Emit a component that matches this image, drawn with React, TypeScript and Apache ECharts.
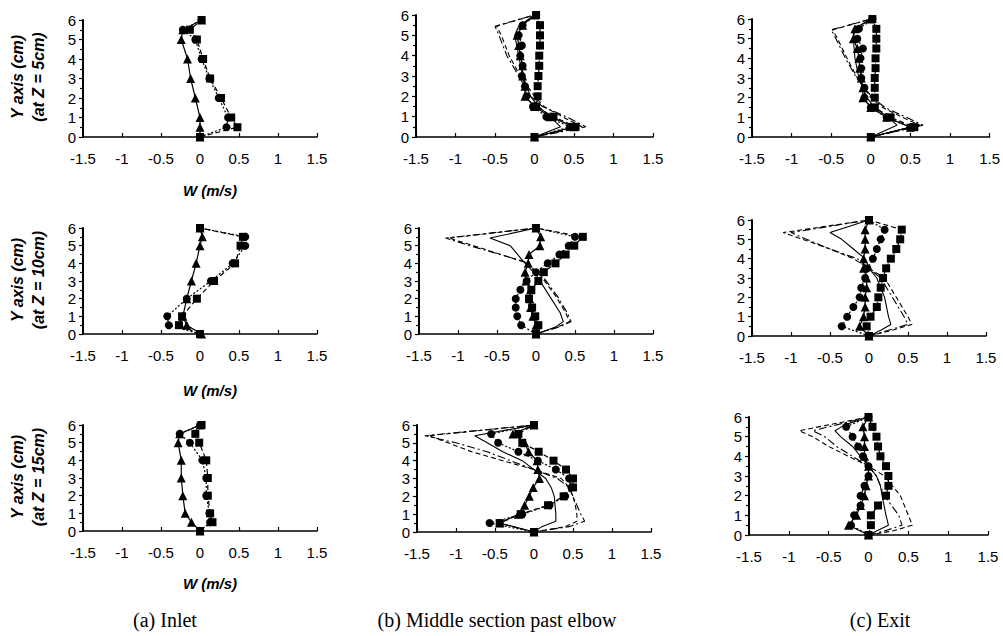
import React, { useEffect, useRef } from 'react';
import * as echarts from 'echarts';

// ---------- axis definitions ----------
const xMin = -1.5;
const xMax = 1.5;
const xStep = 0.5;
const yMin = 0;
const yMax = 6;
const yStep = 1;

// ---------- Y levels of measured points ----------
const yInlet = [0, 0.5, 1, 2, 3, 4, 5, 5.5, 6];
const yProfile = [0, 0.5, 1, 1.5, 2, 2.5, 3, 3.5, 4, 4.5, 5, 5.5, 6];

// ---------- (a) Inlet ----------
const a5Tri = [0, 0, 0, -0.06, -0.12, -0.16, -0.24, -0.22, 0.02];
const a5Cir = [0, 0.34, 0.36, 0.24, 0.12, 0.02, -0.06, -0.22, 0.02];
const a5Sq = [0, 0.48, 0.4, 0.27, 0.13, 0.04, -0.04, -0.13, 0.02];

const a10Tri = [0.02, -0.17, -0.22, -0.17, -0.11, -0.05, 0.0, 0.03, 0.0];
const a10Cir = [0, -0.4, -0.42, -0.17, 0.14, 0.42, 0.58, 0.58, 0.0];
const a10Sq = [0, -0.27, -0.23, -0.04, 0.18, 0.45, 0.52, 0.55, 0.0];

const a15Tri = [0, -0.11, -0.19, -0.22, -0.24, -0.24, -0.28, -0.26, 0.0];
const a15Cir = [0, 0.13, 0.12, 0.08, 0.08, 0.03, -0.13, -0.26, 0.0];
const a15Sq = [0, 0.16, 0.13, 0.1, 0.1, 0.08, -0.01, -0.06, 0.02];

// ---------- (b) Middle section past elbow ----------
const b5Tri = [0, 0.5, 0.2, 0.0, -0.12, -0.12, -0.15, -0.15, -0.18, -0.2, -0.22, -0.15, 0.0];
const b5Cir = [0, 0.45, 0.15, -0.02, -0.1, -0.12, -0.16, -0.15, -0.18, -0.16, -0.2, -0.15, 0.02];
const b5Sq = [0, 0.52, 0.24, 0.02, 0.04, 0.04, 0.05, 0.06, 0.06, 0.07, 0.07, 0.07, 0.02];
const yLineB5 = [0, 0.5, 1, 1.5, 2, 3, 4, 5, 5.45, 6];
const b5Solid = [0, 0.33, 0.2, 0.05, -0.05, -0.15, -0.2, -0.25, -0.2, 0];
const b5Dash = [0, 0.6, 0.35, 0.12, 0.0, -0.18, -0.32, -0.42, -0.48, 0];
const b5DashDot = [0, 0.65, 0.4, 0.1, -0.05, -0.2, -0.35, -0.45, -0.5, 0];

const b10Tri = [0, 0.0, -0.04, -0.07, -0.08, -0.07, -0.13, -0.14, -0.1, -0.09, 0.05, 0.06, 0];
const b10Cir = [0, -0.19, -0.24, -0.26, -0.26, -0.2, -0.12, 0.0, 0.15, 0.3, 0.42, 0.5, 0];
const b10Sq = [0, 0.03, -0.01, -0.05, -0.09, -0.06, 0.03, 0.1, 0.25, 0.38, 0.49, 0.6, 0];
const yLineB10 = [0, 0.4, 0.7, 1.2, 2.1, 3.3, 4.1, 5, 5.43, 6];
const b10Solid = [0, 0.25, 0.35, 0.31, 0.18, 0.01, -0.16, -0.33, -0.59, 0];
const b10Dash = [0, 0.28, 0.43, 0.38, 0.26, 0.06, -0.17, -0.8, -1.12, 0];
const b10DashDot = [0, 0.3, 0.45, 0.4, 0.28, 0.08, -0.15, -0.85, -1.16, 0];

const b15Tri = [0, -0.44, -0.2, -0.12, -0.06, -0.01, 0.07, 0.05, 0.04, -0.07, -0.12, -0.27, 0];
const b15Cir = [0, -0.57, -0.15, 0.2, 0.4, 0.48, 0.45, 0.28, 0.05, -0.2, -0.46, -0.55, 0];
const b15Sq = [0, -0.44, -0.17, 0.18, 0.38, 0.5, 0.5, 0.41, 0.25, 0.06, -0.15, -0.2, 0];
const yLineB15 = [0, 0.3, 0.6, 1, 1.5, 2, 2.5, 3, 3.5, 4, 4.5, 5, 5.4, 6];
const b15Solid = [0, 0.1, 0.28, 0.28, 0.27, 0.26, 0.22, 0.15, 0.0, -0.15, -0.4, -0.6, -0.76, 0];
const b15Dash = [0, 0.4, 0.55, 0.55, 0.53, 0.5, 0.45, 0.35, 0.0, -0.4, -0.8, -1.1, -1.35, 0];
const b15DashDot = [0, 0.45, 0.65, 0.6, 0.55, 0.5, 0.45, 0.3, 0.0, -0.3, -0.6, -1.0, -1.4, 0];

// ---------- (c) Exit ----------
const c5Tri = [0, 0.5, 0.2, 0.0, -0.1, -0.1, -0.12, -0.14, -0.15, -0.17, -0.22, -0.2, 0];
const c5Cir = [0, 0.5, 0.2, 0.0, -0.08, -0.08, -0.12, -0.12, -0.13, -0.1, -0.17, -0.15, 0.02];
const c5Sq = [0, 0.55, 0.25, 0.05, 0.05, 0.05, 0.05, 0.06, 0.06, 0.07, 0.07, 0.07, 0.02];
const yLineC5 = [0, 0.6, 1, 1.5, 2, 3, 4, 5, 5.45, 6];
const c5Solid = [0, 0.33, 0.22, 0.05, -0.05, -0.15, -0.2, -0.22, -0.22, 0];
const c5Dash = [0, 0.62, 0.4, 0.15, 0.0, -0.17, -0.3, -0.42, -0.48, 0];
const c5DashDot = [0, 0.66, 0.45, 0.18, 0.02, -0.18, -0.32, -0.44, -0.5, 0];

const c10Tri = [0, -0.12, -0.07, -0.05, -0.05, -0.03, -0.03, -0.07, -0.07, -0.05, -0.05, -0.05, 0];
const c10Cir = [0, -0.35, -0.28, -0.2, -0.12, -0.1, -0.05, -0.02, 0.05, 0.1, 0.15, 0.2, 0];
const c10Sq = [0, -0.03, 0.02, 0.1, 0.12, 0.15, 0.18, 0.22, 0.28, 0.35, 0.4, 0.42, 0];
const yLineC10 = [0, 0.3, 0.6, 1, 2, 3, 3.5, 4, 4.5, 5, 5.35, 6];
const c10Solid = [0, 0.15, 0.28, 0.25, 0.2, 0.1, 0.0, -0.05, -0.2, -0.35, -0.5, 0];
const c10Dash = [0, 0.3, 0.55, 0.5, 0.35, 0.2, 0.0, -0.2, -0.5, -0.85, -1.1, 0];
const c10DashDot = [0, 0.25, 0.5, 0.45, 0.3, 0.15, 0.0, -0.15, -0.5, -0.8, -1.0, 0];

const c15Tri = [0, -0.25, -0.15, -0.1, -0.05, -0.03, 0.0, 0.0, -0.05, -0.05, -0.05, -0.07, 0];
const c15Cir = [0, -0.22, -0.18, -0.1, -0.1, -0.05, 0.0, 0.0, -0.07, -0.13, -0.2, -0.28, 0];
const c15Sq = [0, 0.03, 0.03, 0.12, 0.22, 0.25, 0.25, 0.22, 0.15, 0.12, 0.1, 0.05, 0];
const yLineC15 = [0, 0.2, 0.5, 1, 2, 2.5, 3, 3.5, 4, 4.5, 5, 5.3, 5.6, 6];
const c15Solid = [0, 0.1, 0.25, 0.22, 0.17, 0.15, 0.1, 0.0, -0.1, -0.2, -0.35, -0.42, -0.3, 0];
const c15Dash = [0, 0.3, 0.55, 0.5, 0.4, 0.3, 0.2, 0.0, -0.25, -0.5, -0.7, -0.87, -0.5, 0];
const c15DashDot = [0, 0.2, 0.42, 0.38, 0.2, 0.15, 0.1, 0.0, -0.2, -0.4, -0.55, -0.7, -0.4, 0];

// ---------- texts ----------
const yTitle = 'Y axis (cm)';
const zLabels = ['(at Z = 5cm)', '(at Z = 10cm)', '(at Z = 15cm)'];
const xTitle = 'W (m/s)';
const captions = ['(a) Inlet', '(b) Middle section past elbow', '(c) Exit'];

const zip = (ws: number[], ys: number[]) => ws.map((w, i) => [w, ys[i]]);

type Panel = {
  grid: { left: number; top: number; width: number; height: number };
  markers: { ws: number[]; ys: number[]; symbol: string; line: any }[];
  lines: { ws: number[]; ys: number[]; line: any }[];
};

const DOTTED: any = [2, 2];
const DASHED: any = [5, 3];
const DASHDOT: any = [8, 3, 2, 3];

const mk = (tri: number[], cir: number[], sq: number[], ys: number[]) => [
  { ws: tri, ys, symbol: 'triangle', line: 'solid' },
  { ws: cir, ys, symbol: 'circle', line: DOTTED },
  { ws: sq, ys, symbol: 'rect', line: DASHED },
];
const ln = (solid: number[], dash: number[], dashdot: number[], ys: number[]) => [
  { ws: solid, ys, line: 'solid' },
  { ws: dash, ys, line: DASHED },
  { ws: dashdot, ys, line: DASHDOT },
];

const panels: Panel[] = [
  { grid: { left: 83, top: 20, width: 234, height: 117 }, markers: mk(a5Tri, a5Cir, a5Sq, yInlet), lines: [] },
  { grid: { left: 416, top: 15, width: 237, height: 122 }, markers: mk(b5Tri, b5Cir, b5Sq, yProfile), lines: ln(b5Solid, b5Dash, b5DashDot, yLineB5) },
  { grid: { left: 752, top: 19, width: 238, height: 118 }, markers: mk(c5Tri, c5Cir, c5Sq, yProfile), lines: ln(c5Solid, c5Dash, c5DashDot, yLineC5) },
  { grid: { left: 83, top: 228, width: 234, height: 106 }, markers: mk(a10Tri, a10Cir, a10Sq, yInlet), lines: [] },
  { grid: { left: 419, top: 228, width: 234, height: 106 }, markers: mk(b10Tri, b10Cir, b10Sq, yProfile), lines: ln(b10Solid, b10Dash, b10DashDot, yLineB10) },
  { grid: { left: 752, top: 220, width: 234, height: 116 }, markers: mk(c10Tri, c10Cir, c10Sq, yProfile), lines: ln(c10Solid, c10Dash, c10DashDot, yLineC10) },
  { grid: { left: 83, top: 425, width: 234, height: 106 }, markers: mk(a15Tri, a15Cir, a15Sq, yInlet), lines: [] },
  { grid: { left: 417, top: 425, width: 234, height: 107 }, markers: mk(b15Tri, b15Cir, b15Sq, yProfile), lines: ln(b15Solid, b15Dash, b15DashDot, yLineB15) },
  { grid: { left: 749, top: 417, width: 239, height: 118 }, markers: mk(c15Tri, c15Cir, c15Sq, yProfile), lines: ln(c15Solid, c15Dash, c15DashDot, yLineC15) },
];

const SANS = '"Liberation Sans", Arial, sans-serif';
const SERIF = '"Liberation Serif", "DejaVu Serif", serif';

export default function App() {
  const ref = useRef<HTMLDivElement>(null);

  useEffect(() => {
    document.body.style.margin = '0';
    if (!ref.current) return;
    const chart = echarts.init(ref.current, undefined, { renderer: 'svg' });

    const grids = panels.map((p) => ({ ...p.grid, containLabel: false }));
    const xAxes = panels.map((_, i) => ({
      type: 'value',
      gridIndex: i,
      min: xMin,
      max: xMax,
      interval: xStep,
      axisLine: { show: true, onZero: false, lineStyle: { color: '#000', width: 1.5 } },
      axisTick: { show: true, inside: true, length: 4, lineStyle: { color: '#000', width: 1.2 } },
      axisLabel: { color: '#000', fontSize: 15, fontFamily: SANS, margin: 14, showMinLabel: true, showMaxLabel: true },
      splitLine: { show: false },
    }));
    const yAxes = panels.map((_, i) => ({
      type: 'value',
      gridIndex: i,
      position: 'left',
      min: yMin,
      max: yMax,
      interval: yStep,
      axisLine: { show: true, onZero: false, lineStyle: { color: '#000', width: 2 } },
      axisTick: { show: true, length: 4, lineStyle: { color: '#000', width: 1.2 } },
      minorTick: { show: true, splitNumber: 2, length: 3, lineStyle: { color: '#000', width: 1.2 } },
      axisLabel: { color: '#000', fontSize: 15, fontFamily: SANS, margin: 7 },
      splitLine: { show: false },
    }));

    const series: any[] = [];
    panels.forEach((p, i) => {
      p.lines.forEach((l) => {
        series.push({
          type: 'line',
          xAxisIndex: i,
          yAxisIndex: i,
          data: zip(l.ws, l.ys),
          symbol: 'none',
          lineStyle: { color: '#000', width: 1.1, type: l.line },
          silent: true,
          z: 2,
        });
      });
      p.markers.forEach((m) => {
        series.push({
          type: 'line',
          xAxisIndex: i,
          yAxisIndex: i,
          data: zip(m.ws, m.ys),
          symbol: m.symbol,
          symbolSize: m.symbol === 'triangle' ? 9 : 8,
          showSymbol: true,
          itemStyle: { color: '#000', borderWidth: 0 },
          lineStyle: { color: '#000', width: 1.2, type: m.line },
          silent: true,
          z: 3,
        });
      });
    });

    const rowCenters = [77, 280, 477];
    const xTitleY = [190, 390, 583];
    const graphic: any[] = [];
    rowCenters.forEach((cy, r) => {
      graphic.push({
        type: 'text', x: 17, y: cy, rotation: Math.PI / 2,
        style: { text: yTitle, fontSize: 16, fontWeight: 'bold', fontStyle: 'italic', fontFamily: SANS, fill: '#000', align: 'center', verticalAlign: 'middle' },
      });
      graphic.push({
        type: 'text', x: 38, y: cy, rotation: Math.PI / 2,
        style: { text: zLabels[r], fontSize: 16, fontWeight: 'bold', fontStyle: 'italic', fontFamily: SANS, fill: '#000', align: 'center', verticalAlign: 'middle' },
      });
      graphic.push({
        type: 'text', x: 210, y: xTitleY[r],
        style: { text: xTitle, fontSize: 15, fontWeight: 'bold', fontStyle: 'italic', fontFamily: SANS, fill: '#000', align: 'center', verticalAlign: 'middle' },
      });
    });
    const capX = [165, 497, 880];
    captions.forEach((c, i) => {
      graphic.push({
        type: 'text', x: capX[i], y: 620,
        style: { text: c, fontSize: 20, fontFamily: SERIF, fill: '#000', align: 'center', verticalAlign: 'middle' },
      });
    });

    chart.setOption({
      animation: false,
      backgroundColor: '#fff',
      grid: grids,
      xAxis: xAxes,
      yAxis: yAxes,
      series,
      graphic,
    });

    return () => chart.dispose();
  }, []);

  return <div ref={ref} style={{ width: 1003, height: 636 }} />;
}
